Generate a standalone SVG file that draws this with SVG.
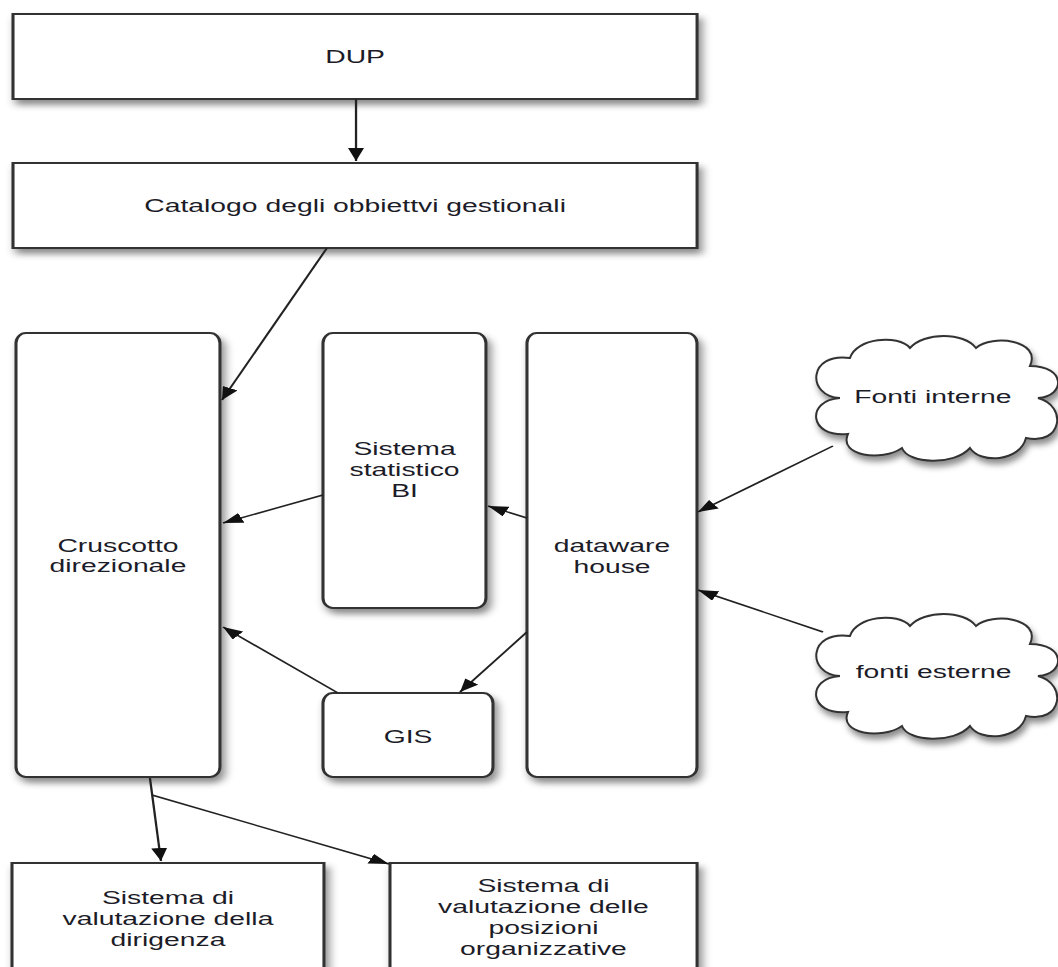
<svg xmlns="http://www.w3.org/2000/svg" width="1058" height="967" viewBox="0 0 1058 967">
<style>
.box{fill:#fff;stroke:#333;stroke-width:2;filter:url(#sh)}
.lbl{font-family:"Liberation Sans",Arial,sans-serif;font-size:18.5px;fill:#1c1c28;text-anchor:middle}
.con{fill:none;stroke:#222;stroke-width:1.5;marker-end:url(#ah)}
</style>
<defs>
<filter id="sh" x="-20%" y="-20%" width="150%" height="150%">
<feDropShadow dx="2.5" dy="5" stdDeviation="3" flood-color="#000" flood-opacity="0.45"/>
</filter>
<marker id="ah" markerUnits="userSpaceOnUse" viewBox="0 0 13 10.5" refX="13" refY="5.25" markerWidth="13" markerHeight="10.5" orient="auto">
<path d="M0,0 L13,5.25 L0,10.5 z" fill="#111"/>
</marker>
<path id="cloud" d="M28,62 C-6,60 -4,16 38,22 C44,2 86,-2 98,12 C112,-4 152,-4 164,12 C180,-2 230,4 218,30 C254,30 254,60 226,62 C256,70 250,110 214,102 C208,126 168,128 158,112 C142,130 96,128 90,112 C70,126 26,120 36,98 C-4,102 -6,64 28,62 Z"/>
</defs>
<rect width="1058" height="967" fill="#fff"/>
<g transform="scale(1.53,1)">
<g id="dup">
<rect class="box" x="8.5" y="14" width="447.1" height="85"/>
<text class="lbl" x="232.1" y="63">DUP</text>
</g>
<g id="catalogo">
<rect class="box" x="8.5" y="163" width="447.1" height="85"/>
<text class="lbl" x="232.1" y="212">Catalogo degli obbiettvi gestionali</text>
</g>
<g id="cruscotto">
<rect class="box" x="10.46" y="333" width="133.3" height="444" rx="6.5" ry="10"/>
<text class="lbl" x="77.1" y="552">Cruscotto</text>
<text class="lbl" x="77.1" y="572">direzionale</text>
</g>
<g id="sistema-statistico">
<rect class="box" x="211.11" y="333" width="106.5" height="275" rx="6.5" ry="10"/>
<text class="lbl" x="264.4" y="455">Sistema</text>
<text class="lbl" x="264.4" y="476">statistico</text>
<text class="lbl" x="264.4" y="497">BI</text>
</g>
<g id="datawarehouse">
<rect class="box" x="344.44" y="333" width="111.1" height="444" rx="6.5" ry="10"/>
<text class="lbl" x="400" y="552">dataware</text>
<text class="lbl" x="400" y="573">house</text>
</g>
<g id="gis">
<rect class="box" x="211.11" y="693" width="111.1" height="84" rx="6.5" ry="10"/>
<text class="lbl" x="266.7" y="743">GIS</text>
</g>
<g id="fonti-interne" transform="translate(530.7,336)">
<use href="#cloud" transform="scale(0.6536,1)" fill="#fff" stroke="#333" stroke-width="2" filter="url(#sh)"/>
<text class="lbl" x="79" y="67">Fonti interne</text>
</g>
<g id="fonti-esterne" transform="translate(530.7,614)">
<use href="#cloud" transform="scale(0.6536,1)" fill="#fff" stroke="#333" stroke-width="2" filter="url(#sh)"/>
<text class="lbl" x="79.5" y="64">fonti esterne</text>
</g>
<g id="valutazione-dirigenza">
<rect class="box" x="7.84" y="863" width="203.9" height="130"/>
<text class="lbl" x="109.8" y="904">Sistema di</text>
<text class="lbl" x="109.8" y="925">valutazione della</text>
<text class="lbl" x="109.8" y="946">dirigenza</text>
</g>
<g id="valutazione-posizioni">
<rect class="box" x="254.9" y="863" width="200.7" height="130"/>
<text class="lbl" x="355.2" y="892">Sistema di</text>
<text class="lbl" x="355.2" y="913">valutazione delle</text>
<text class="lbl" x="355.2" y="934">posizioni</text>
<text class="lbl" x="355.2" y="955">organizzative</text>
</g>
<g id="connectors">
<line class="con" x1="232.7" y1="99" x2="232.7" y2="161"/>
<line class="con" x1="213.7" y1="248" x2="145.1" y2="400"/>
<line class="con" x1="211.1" y1="495" x2="145.8" y2="523"/>
<line class="con" x1="344.4" y1="518" x2="319.0" y2="506"/>
<line class="con" x1="344.4" y1="632" x2="300.7" y2="692"/>
<line class="con" x1="220.9" y1="693" x2="145.8" y2="627"/>
<line class="con" x1="544.4" y1="446" x2="456.2" y2="512"/>
<line class="con" x1="537.9" y1="632" x2="456.2" y2="590"/>
<line class="con" x1="98.0" y1="778" x2="105.2" y2="861"/>
<line class="con" x1="99.3" y1="795" x2="254.2" y2="864"/>
</g>
</g>
</svg>
